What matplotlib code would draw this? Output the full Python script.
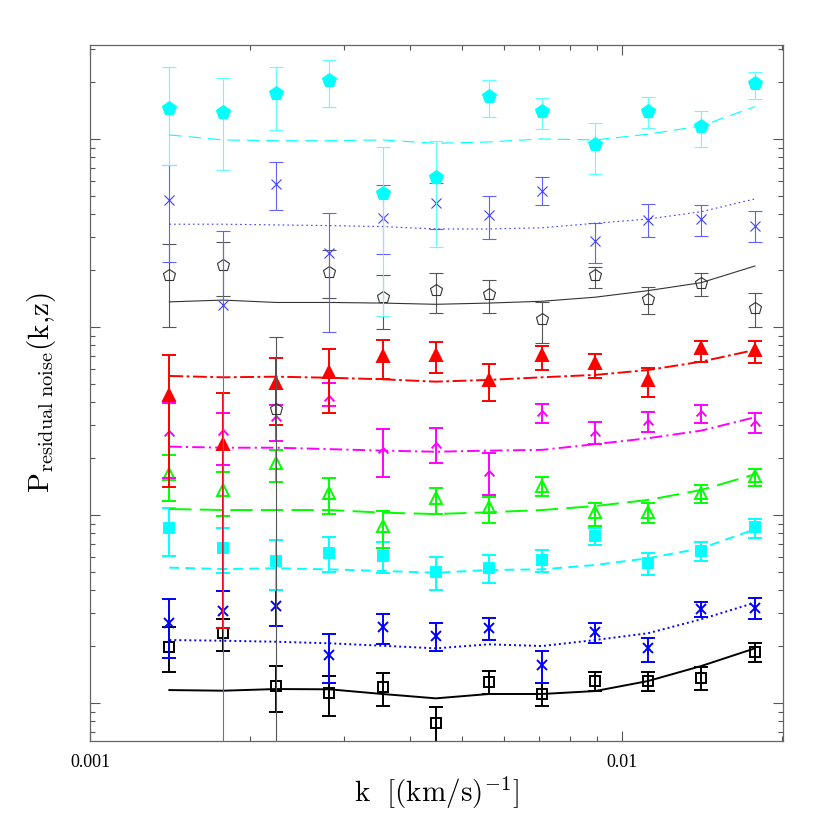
import matplotlib
matplotlib.use("Agg")
import matplotlib.pyplot as plt
from matplotlib.path import Path
from matplotlib.ticker import LogLocator, NullFormatter, FixedLocator, FixedFormatter
import numpy as np

plt.rcParams['mathtext.fontset'] = 'cm'
plt.rcParams['lines.scale_dashes'] = False

# k bins [(km/s)^-1]
k = [0.00141, 0.00178, 0.00224, 0.00282, 0.00355, 0.00447,
     0.00562, 0.00708, 0.00891, 0.0112, 0.0141, 0.0178]

# each series: measured value, lower bound, upper bound, model curve
sq_val = [1.99, 2.35, 1.23, 1.126, 1.212, 0.780, 1.298, 1.117, 1.314, 1.309, 1.363, 1.875]
sq_lo = [1.456, 1.89, 0.892, 0.856, 0.967, 0.3, 1.117, 0.967, 1.158, 1.158, 1.172, 1.646]
sq_hi = [2.53, 2.79, 1.57, 1.392, 1.449, 0.956, 1.479, 1.273, 1.467, 1.467, 1.549, 2.093]
sq_mod = [1.172, 1.163, 1.187, 1.183, 1.117, 1.059, 1.117, 1.117, 1.158, 1.309, 1.573, 1.954]

x_val = [2.65, 3.10, 3.28, 1.80, 2.53, 2.27, 2.495, 1.592, 2.377, 1.954, 3.15, 3.19]
x_lo = [1.742, 2.506, 2.58, 1.282, 2.06, 1.897, 2.163, 1.273, 2.093, 1.658, 2.857, 2.80]
x_hi = [3.57, 3.94, 3.99, 2.32, 2.97, 2.65, 2.82, 1.897, 2.673, 2.225, 3.43, 3.60]
x_mod = [2.163, 2.145, 2.118, 2.078, 2.017, 1.954, 2.052, 2.01, 2.163, 2.35, 2.79, 3.417]

fs_val = [8.49, 6.70, 5.69, 6.30, 6.05, 4.96, 5.25, 5.76, 7.76, 5.53, 6.46, 8.60]
fs_lo = [6.05, 4.90, 3.99, 4.99, 4.90, 3.99, 4.36, 4.99, 6.92, 4.80, 5.71, 7.57]
fs_hi = [10.94, 8.56, 7.36, 7.61, 7.16, 5.96, 6.12, 6.51, 8.49, 6.25, 7.16, 9.52]
fs_mod = [5.25, 5.16, 5.21, 5.14, 5.04, 4.93, 5.10, 5.14, 5.42, 5.89, 6.65, 8.39]

tri_val = [16.47, 13.58, 18.84, 13.14, 8.74, 12.27, 11.07, 14.26, 10.41, 10.41, 13.14, 16.12]
tri_lo = [11.91, 9.88, 15.04, 10.12, 6.65, 10.12, 9.10, 12.62, 8.74, 9.10, 11.62, 14.26]
tri_hi = [20.85, 17.0, 22.2, 15.67, 10.54, 13.97, 12.42, 15.87, 11.62, 11.62, 14.44, 17.63]
tri_mod = [10.76, 10.63, 10.63, 10.63, 10.29, 10.12, 10.34, 10.63, 11.16, 12.02, 13.58, 16.47]

ch_val = [27.2, 27.5, 32.8, 41.8, 22.2, 23.6, 16.67, 34.7, 27.2, 31.4, 34.7, 31.0]
ch_lo = [15.67, 18.45, 24.8, 38.0, 15.99, 18.97, 12.77, 30.7, 23.9, 27.7, 31.0, 27.4]
ch_hi = [39.6, 34.9, 38.5, 50.2, 28.6, 29.1, 21.3, 38.9, 31.1, 35.4, 38.5, 35.0]
ch_mod = [23.1, 22.8, 22.8, 22.4, 22.0, 21.7, 22.0, 22.2, 23.8, 25.6, 28.1, 33.1]

ft_val = [43.5, 23.9, 50.2, 57.8, 70.1, 71.0, 52.3, 71.0, 64.1, 52.3, 77.1, 75.5]
ft_lo = [14.14, 2.495, 30.1, 34.9, 52.7, 56.7, 40.5, 59.0, 53.3, 42.6, 65.4, 64.6]
ft_hi = [71.0, 44.7, 68.2, 76.1, 85.3, 83.5, 63.6, 79.2, 71.8, 60.3, 84.5, 84.2]
ft_mod = [54.9, 54.0, 54.4, 53.7, 52.7, 51.2, 52.3, 54.0, 55.6, 59.0, 65.4, 75.5]

op_val = [189, 214, 36.5, 197, 144, 157, 149, 110, 189, 141, 171, 126]
op_lo = [100.4, 147, 0.3, 143, 97.2, 118, 118, 82.5, 161, 117, 147, 99.6]
op_hi = [276, 282, 88.8, 257, 188, 193, 178, 136, 209, 164, 193, 151]
op_mod = [136, 139, 135, 135, 134, 132, 134, 137, 144, 156, 172, 211]

as_val = [474, 131, 576, 247, 378, 458, 394, 531, 287, 371, 375, 346]
as_lo = [221, 0.3, 418, 93.7, 245, 332, 295, 444, 218, 300, 305, 284]
as_hi = [728, 324, 755, 403, 569, 581, 499, 630, 359, 453, 447, 416]
as_mod = [352, 352, 349, 346, 342, 332, 332, 337, 356, 375, 410, 480]

fp_val = [1456, 1397, 1762, 2061, 518, 630, 1693, 1409, 937, 1414, 1172, 1977]
fp_lo = [728, 684, 1112, 1475, 114, 265, 1305, 1130, 649, 1140, 903, 1626]
fp_hi = [2425, 2104, 2404, 2630, 910, 979, 2061, 1659, 1212, 1667, 1414, 2280]
fp_mod = [1050, 988, 979, 979, 988, 948, 964, 1000, 988, 1059, 1172, 1486]

chevron = Path([(-1, -0.6), (0, 0.5), (1, -0.6)], [Path.MOVETO, Path.LINETO, Path.LINETO])

series = [
    # val, lo, hi, model, marker, filled, color, ecolor, lw, ms, dashes
    (sq_val, sq_lo, sq_hi, sq_mod, 's', False, 'black', 'black', 1.4, 6.5, None),
    (x_val, x_lo, x_hi, x_mod, 'x', False, '#0000ff', '#0000ff', 1.4, 7, (1.4, 2.2)),
    (fs_val, fs_lo, fs_hi, fs_mod, 's', True, '#00ffff', '#00ffff', 1.4, 6.5, (7, 4.5)),
    (tri_val, tri_lo, tri_hi, tri_mod, '^', False, '#00ff00', '#00ff00', 1.4, 8, (16, 6)),
    (ch_val, ch_lo, ch_hi, ch_mod, chevron, False, '#ff00ff', '#ff00ff', 1.4, 7, (9, 3, 1.5, 3)),
    (ft_val, ft_lo, ft_hi, ft_mod, '^', True, '#ff0000', '#ff0000', 1.4, 8, (10, 2.5, 2, 2.5)),
    (op_val, op_lo, op_hi, op_mod, 'p', False, '#333333', '#555555', 0.8, 9, None),
    (as_val, as_lo, as_hi, as_mod, 'x', False, '#4040ff', '#6060ff', 0.8, 7, (1.2, 2.2)),
    (fp_val, fp_lo, fp_hi, fp_mod, 'p', True, '#00ffff', '#60ffff', 0.8, 10, (9, 5)),
]

fig = plt.figure(figsize=(8.3, 8.3), dpi=100)
ax = fig.add_axes([0.1084, 0.1072, 0.835, 0.8386])
ax.set_xscale('log')
ax.set_yscale('log')

for val, lo, hi, mod, mk, filled, col, ecol, lw, ms, dash in series:
    val = np.array(val)
    yerr = [val - np.array(lo), np.array(hi) - val]
    ax.errorbar(k, val, yerr=yerr, fmt='none', ecolor=ecol, elinewidth=lw,
                capsize=4.7, capthick=lw)
    ax.plot(k, val, ls='none', marker=mk, ms=ms, mec=col, mew=lw,
            mfc=col if filled else 'none')
    line, = ax.plot(k, mod, color=col, lw=lw)
    if dash is not None:
        line.set_dashes(dash)

ax.set_xlim(0.001, 0.0201)
ax.set_ylim(0.628, 3160)

ax.xaxis.set_major_locator(FixedLocator([0.001, 0.01]))
ax.xaxis.set_major_formatter(FixedFormatter(['0.001', '0.01']))
ax.xaxis.set_minor_locator(LogLocator(base=10, subs=np.arange(2, 10)))
ax.xaxis.set_minor_formatter(NullFormatter())
ax.yaxis.set_major_locator(LogLocator(base=10))
ax.yaxis.set_minor_locator(LogLocator(base=10, subs=np.arange(2, 10)))
ax.yaxis.set_major_formatter(NullFormatter())
ax.yaxis.set_minor_formatter(NullFormatter())

ax.tick_params(which='both', direction='in', top=True, right=True, color='#555555', width=0.8)
ax.tick_params(which='major', length=7.5, pad=9)
ax.tick_params(which='minor', length=3.8)
for lab in ax.get_xticklabels():
    lab.set_fontfamily('Liberation Serif')
    lab.set_fontsize(13)
for s in ax.spines.values():
    s.set_color('#666666')
    s.set_linewidth(0.9)

ax.set_xlabel(r'$\mathrm{k}\ \ [(\mathrm{km/s})^{-1}]$', fontsize=21, labelpad=3)
ax.set_ylabel(r'$\mathrm{P}_{\mathrm{residual\ noise}}(\mathrm{k{,}z})$', fontsize=21, labelpad=14)

fig.savefig('out.png', dpi=100)
